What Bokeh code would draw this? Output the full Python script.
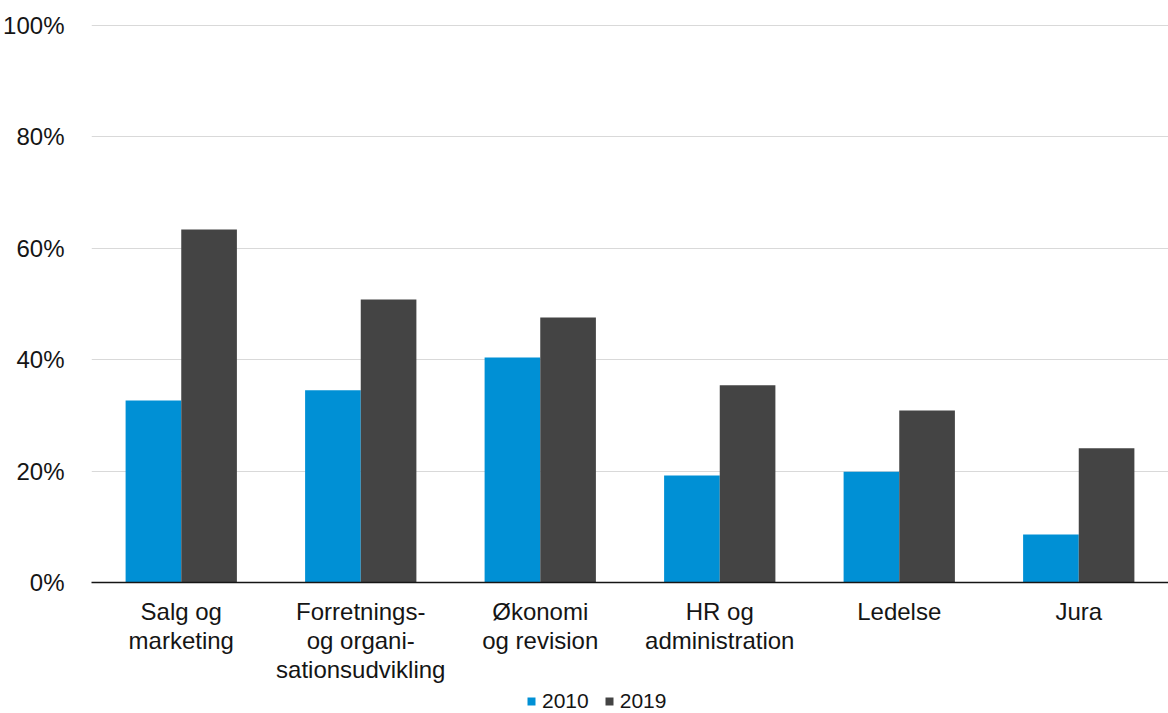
from bokeh.plotting import figure
from bokeh.models import ColumnDataSource, NumeralTickFormatter, Legend, LegendItem, FactorRange, SingleIntervalTicker
from bokeh.layouts import column
from bokeh.transform import dodge
from bokeh.embed import file_html
from bokeh.resources import INLINE

categories = ["Salg og\nmarketing", "Forretnings-\nog organi-\nsationsudvikling", "Økonomi\nog revision",
              "HR og\nadministration", "Ledelse", "Jura"]
v2010 = [0.327, 0.345, 0.404, 0.192, 0.199, 0.086]
v2019 = [0.634, 0.508, 0.476, 0.354, 0.309, 0.241]
series = ["2010", "2019"]
colors = ["#0090D5", "#444444"]
TXT = "#151515"

src = ColumnDataSource(dict(cat=categories, v2010=v2010, v2019=v2019))

p = figure(x_range=FactorRange(*categories), y_range=(0, 1.002), width=1168, height=685,
           output_backend="svg", toolbar_location=None,
           min_border_left=90, min_border_right=0, min_border_top=24, min_border_bottom=10)

r1 = p.vbar(x=dodge("cat", -0.155, range=p.x_range), top="v2010", width=0.31, source=src,
            fill_color=colors[0], line_color=None)
r2 = p.vbar(x=dodge("cat", 0.155, range=p.x_range), top="v2019", width=0.31, source=src,
            fill_color=colors[1], line_color=None)

p.x_range.range_padding = 0
p.outline_line_color = None
p.background_fill_color = "white"
p.border_fill_color = "white"

p.xgrid.grid_line_color = None
p.ygrid.grid_line_color = "#d9d9d9"
p.ygrid.grid_line_width = 1

p.yaxis.ticker = SingleIntervalTicker(interval=0.2)
p.yaxis.formatter = NumeralTickFormatter(format="0%")
p.yaxis.axis_line_color = None
p.yaxis.major_tick_line_color = None
p.yaxis.minor_tick_line_color = None
p.yaxis.major_label_text_font = "Liberation Sans"
p.yaxis.major_label_text_font_size = "24px"
p.yaxis.major_label_text_color = TXT
p.yaxis.major_label_standoff = 21

p.xaxis.axis_line_color = TXT
p.xaxis.axis_line_width = 1.5
p.xaxis.major_tick_line_color = None
p.xaxis.minor_tick_line_color = None
p.xaxis.major_label_text_font = "Liberation Sans"
p.xaxis.major_label_text_font_size = "24px"
p.xaxis.major_label_text_color = TXT
p.xaxis.major_label_text_align = "center"
p.xaxis.major_label_text_line_height = 1.08
p.xaxis.major_label_standoff = 9

# legend strip below the chart (its key renderers lie outside the strip's visible range)
lf = figure(frame_width=1168, frame_height=28, output_backend="svg", toolbar_location=None,
            x_axis_location=None, y_axis_location=None,
            min_border_left=0, min_border_right=0, min_border_top=0, min_border_bottom=0,
            x_range=(0, 1), y_range=(0, 1))
lf.grid.grid_line_color = None
lf.outline_line_color = None
key_src = ColumnDataSource(dict(x=[-5.0], top=[-5.0]))
d1 = lf.vbar(x="x", top="top", width=0.1, source=key_src, fill_color=colors[0], line_color=None)
d2 = lf.vbar(x="x", top="top", width=0.1, source=key_src, fill_color=colors[1], line_color=None)
legend = Legend(items=[LegendItem(label=series[0], renderers=[d1]),
                       LegendItem(label=series[1], renderers=[d2])],
                orientation="horizontal", location=(526, 0),
                label_text_font="Liberation Sans", label_text_font_size="21px",
                label_text_color=TXT, glyph_width=10, glyph_height=10,
                label_standoff=6, spacing=15, padding=0, margin=0,
                border_line_color=None, background_fill_alpha=0, label_height=20)
lf.add_layout(legend, "center")

open("out.html", "w").write(file_html(column(p, lf, spacing=0), INLINE))
